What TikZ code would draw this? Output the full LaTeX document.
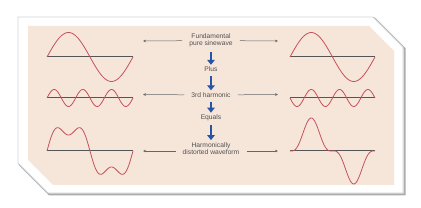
\documentclass[tikz,border=0pt]{standalone}
\usepackage{fontspec}
\setmainfont{Liberation Sans}
\usetikzlibrary{arrows.meta}
\definecolor{panelbg}{RGB}{246,230,218}
\definecolor{wavered}{RGB}{196,82,88}
\definecolor{axisgray}{RGB}{85,85,85}
\definecolor{labelgray}{RGB}{80,80,80}
\definecolor{flowblue}{RGB}{40,84,165}

\begin{document}
\begin{tikzpicture}[x=1pt, y=-1pt,
    label/.style={text=labelgray, font=\fontsize{6.7}{7.4}\selectfont, align=center, inner xsep=7pt, inner ysep=1pt},
    wave/.style={draw=wavered, line width=0.8pt},
    axis/.style={draw=axisgray, line width=1pt},
    flow/.style={-{Triangle[width=7.5pt,length=5pt]}, draw=flowblue, line width=2.3pt, shorten <=3pt, shorten >=1pt},
    pointer/.style={-{Stealth[width=2.6pt,length=3pt]}, draw=gray!80!black, line width=0.5pt}
]
\useasboundingbox (0,0) rectangle (421,208);

% Card with shadow
\draw[gray!65, line width=2pt] (19.5,18.5) -- (374.5,18.5) -- (404.5,48.5) -- (404.5,194.5) -- (49.5,194.5) -- (19.5,164.5) -- cycle;
\draw[fill=white, draw=gray!35, line width=0.8pt] (18,17) -- (373,17) -- (403,47) -- (403,193) -- (48,193) -- (18,163) -- cycle;

% Beige panel
\fill[panelbg] (28,26) -- (369,26) -- (394,51) -- (394,185) -- (53,185) -- (28,160) -- cycle;

% Labels
\node[label] (fund) at (211,40.5) {Fundamental\\pure sinewave};
\node[label] (plus) at (211,69.5) {Plus};
\node[label] (third) at (211,95) {3rd harmonic};
\node[label] (equals) at (211,118) {Equals};
\node[label] (dist) at (211,148.5) {Harmonically\\distorted waveform};

% Flow arrows
\draw[flow] (fund) -- (plus);
\draw[flow] (plus) -- (third);
\draw[flow] (third) -- (equals);
\draw[flow] (equals) -- (dist);

% Pointer ends
\coordinate (fundL) at (143,41);
\coordinate (fundR) at (278,41);
\coordinate (thirdL) at (143,94.5);
\coordinate (thirdR) at (278,94.5);
\coordinate (distL) at (143,151);
\coordinate (distR) at (278,151);

\draw[pointer] (fund) -- (fundL);
\draw[pointer] (fund) -- (fundR);
\draw[pointer] (third) -- (thirdL);
\draw[pointer] (third) -- (thirdR);
\draw[pointer] (dist.west |- distL) -- (distL);
\draw[pointer] (dist.east |- distR) -- (distR);

% Left waveforms
\draw[axis] (47,57) -- (133,57);
\draw[wave] plot[domain=0:360, samples=90, smooth] ({47+86*(\x/360)}, {57-24.5*sin(\x)});
\draw[axis] (47,98) -- (133,98);
\draw[wave] plot[domain=0:360, samples=150, smooth] ({47+86*(\x/360)}, {98-8.5*sin(3*\x)});
\draw[axis] (47,151) -- (133,151);
\draw[wave] plot[domain=0:360, samples=150, smooth] ({47+86*(\x/360)}, {151-24.5*sin(\x)-8.5*sin(3*\x)});

% Right waveforms
\draw[axis] (290,57) -- (375,57);
\draw[wave] plot[domain=0:360, samples=90, smooth] ({290+85*(\x/360)}, {57-24.5*sin(\x)});
\draw[axis] (290,98) -- (375,98);
\draw[wave] plot[domain=0:360, samples=150, smooth] ({290+85*(\x/360)}, {98+8.5*sin(3*\x)});
\draw[axis] (290,151) -- (375,151);
\draw[wave] plot[domain=0:360, samples=150, smooth] ({290+85*(\x/360)}, {151-24.5*sin(\x)+8.5*sin(3*\x)});

\end{tikzpicture}
\end{document}
